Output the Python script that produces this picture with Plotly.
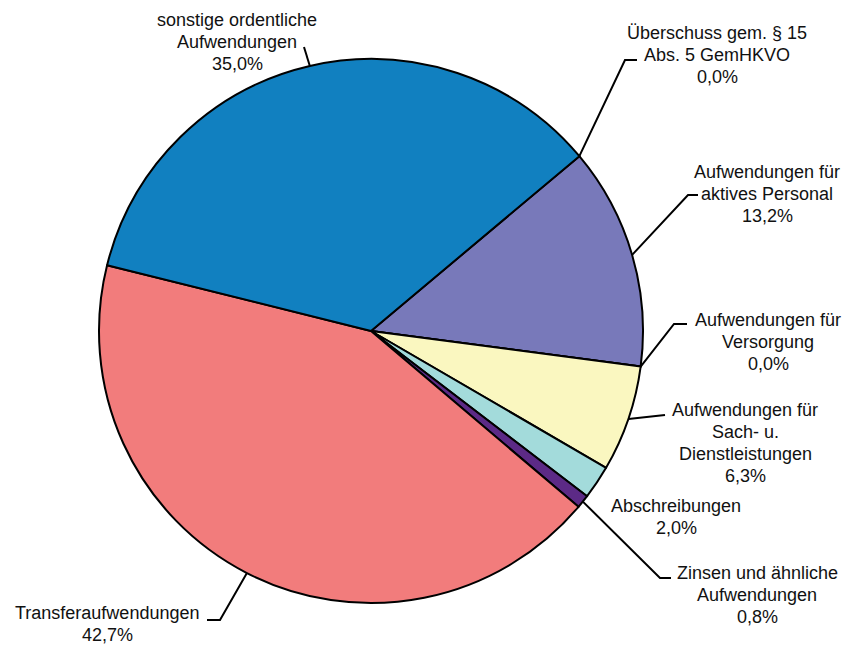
import math
import plotly.graph_objects as go

# Anteile der ordentlichen Aufwendungen (in %), im Uhrzeigersinn
categories = [
    "Überschuss gem. § 15 Abs. 5 GemHKVO",
    "Aufwendungen für aktives Personal",
    "Aufwendungen für Versorgung",
    "Aufwendungen für Sach- u. Dienstleistungen",
    "Abschreibungen",
    "Zinsen und ähnliche Aufwendungen",
    "Transferaufwendungen",
    "sonstige ordentliche Aufwendungen",
]
shares = [0.0, 13.2, 0.0, 6.3, 2.0, 0.8, 42.7, 35.0]
label_lines = [
    ["Überschuss gem. § 15", "Abs. 5 GemHKVO"],
    ["Aufwendungen für", "aktives Personal"],
    ["Aufwendungen für", "Versorgung"],
    ["Aufwendungen für", "Sach- u.", "Dienstleistungen"],
    ["Abschreibungen"],
    ["Zinsen und ähnliche", "Aufwendungen"],
    ["Transferaufwendungen"],
    ["sonstige ordentliche", "Aufwendungen"],
]
colors = ["#B0B0B0", "#7879BA", "#C8C8C8", "#FAF7C0",
          "#A3DBDB", "#5C2A86", "#F27C7C", "#1180C0"]

W, H = 848, 646
CX, CY, R = 371, 331, 272
ROTATION = 50

# label placement: text centre x, first-line centre y, leader elbow, leader end
label_layout = [
    dict(x=717, y=33, elbow=(625, 60), end=(637, 60)),
    dict(x=767, y=172, elbow=(688, 195), end=(698, 195)),
    dict(x=768, y=320, elbow=(674, 324), end=(687, 324)),
    dict(x=745, y=410, elbow=None, end=(665, 415)),
    dict(x=676, y=506, elbow=None, end=None),
    dict(x=757, y=573, elbow=(660, 578), end=(671, 578)),
    dict(x=107, y=613, elbow=(220, 620), end=(207, 620)),
    dict(x=237, y=20, elbow=None, end=(304, 47)),
]
LINE_GAP = 22


def px(x):
    return x / W


def py(y):
    return 1 - y / H


fig = go.Figure(go.Pie(
    labels=categories,
    values=shares,
    sort=False,
    direction="clockwise",
    rotation=ROTATION,
    textinfo="none",
    hoverinfo="label+percent",
    marker=dict(colors=colors, line=dict(color="#000000", width=2)),
    domain=dict(x=[(CX - R) / W, (CX + R) / W],
                y=[(H - CY - R) / H, (H - CY + R) / H]),
    showlegend=False,
))

total = sum(shares)
start = ROTATION
shapes, annotations = [], []
for cat_lines, val, lay in zip(label_lines, shares, label_layout):
    span = 360 * val / total
    mid = math.radians(start + span / 2)
    start += span
    ex, ey = CX + R * math.sin(mid), CY - R * math.cos(mid)

    if lay["end"] is not None:
        pts = [(ex, ey)]
        if lay["elbow"] is not None:
            pts.append(lay["elbow"])
        pts.append(lay["end"])
        path = "M " + " L ".join(f"{px(a):.5f},{py(b):.5f}" for a, b in pts)
        shapes.append(dict(type="path", path=path, xref="paper", yref="paper",
                           line=dict(color="#000000", width=2)))

    pct = f"{val:.1f}".replace(".", ",") + "%"
    for i, line in enumerate(cat_lines + [pct]):
        annotations.append(dict(
            text=line, x=px(lay["x"]), y=py(lay["y"] + i * LINE_GAP),
            xref="paper", yref="paper", xanchor="center", yanchor="middle",
            showarrow=False,
            font=dict(family="Liberation Sans, Arial, sans-serif",
                      size=18, color="#111111"),
        ))

fig.update_layout(
    width=W, height=H,
    margin=dict(l=0, r=0, t=0, b=0),
    paper_bgcolor="#ffffff",
    plot_bgcolor="#ffffff",
    shapes=shapes,
    annotations=annotations,
)

fig.write_html("out.html")
